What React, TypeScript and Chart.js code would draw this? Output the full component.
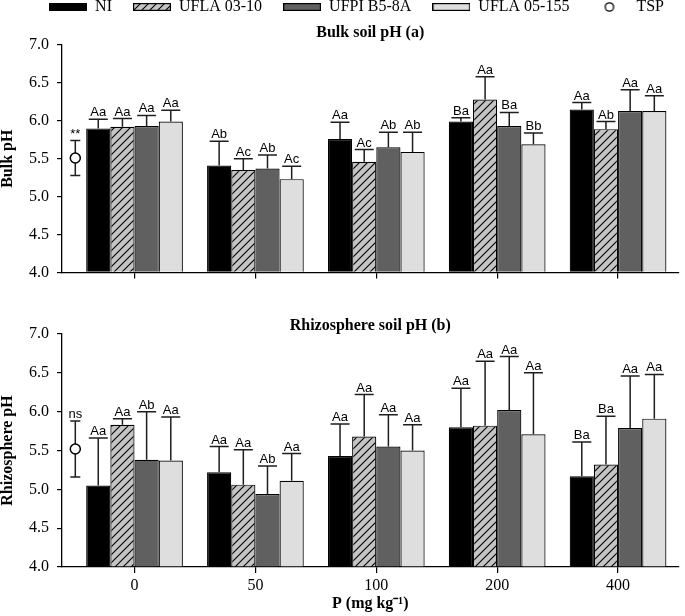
import React, { useEffect, useRef } from 'react';
import { Chart, registerables } from 'chart.js';

Chart.register(...registerables);

// ---------- data ----------
const doseLabels = ['0', '50', '100', '200', '400'];
const dosePositions = [0, 1, 2, 3, 4];
const seriesNames = ['NI', 'UFLA 03-10', 'UFPI B5-8A', 'UFLA 05-155'];
const tspName = 'TSP';
const tspPosition = -0.49;
const yMin = 4;
const yMax = 7;
const yStep = 0.5;

// Bulk soil pH (a)
const bulkNI = [5.90, 5.41, 5.76, 5.99, 6.15];
const bulkUFLA0310 = [5.92, 5.35, 5.46, 6.28, 5.89];
const bulkUFPI = [5.93, 5.37, 5.65, 5.93, 6.13];
const bulkUFLA05155 = [5.99, 5.23, 5.59, 5.69, 6.13];
const bulkNIErr = [0.12, 0.32, 0.22, 0.05, 0.09];
const bulkUFLA0310Err = [0.11, 0.15, 0.16, 0.30, 0.10];
const bulkUFPIErr = [0.14, 0.18, 0.20, 0.18, 0.28];
const bulkUFLA05155Err = [0.15, 0.17, 0.26, 0.15, 0.20];
const bulkNILetters = ['Aa', 'Ab', 'Aa', 'Ba', 'Aa'];
const bulkUFLA0310Letters = ['Aa', 'Ac', 'Ac', 'Aa', 'Ab'];
const bulkUFPILetters = ['Aa', 'Ab', 'Ab', 'Ba', 'Aa'];
const bulkUFLA05155Letters = ['Aa', 'Ac', 'Ab', 'Bb', 'Aa'];
const bulkTSP = 5.51;
const bulkTSPErr = 0.23;
const bulkTSPMark = '**';

// Rhizosphere soil pH (b)
const rhizoNI = [5.05, 5.22, 5.43, 5.80, 5.17];
const rhizoUFLA0310 = [5.83, 5.06, 5.68, 5.82, 5.32];
const rhizoUFPI = [5.38, 4.94, 5.55, 6.02, 5.79];
const rhizoUFLA05155 = [5.37, 5.11, 5.50, 5.71, 5.91];
const rhizoNIErr = [0.61, 0.33, 0.41, 0.50, 0.44];
const rhizoUFLA0310Err = [0.08, 0.45, 0.54, 0.83, 0.62];
const rhizoUFPIErr = [0.62, 0.36, 0.41, 0.69, 0.67];
const rhizoUFLA05155Err = [0.56, 0.35, 0.33, 0.79, 0.57];
const rhizoNILetters = ['Aa', 'Aa', 'Aa', 'Aa', 'Ba'];
const rhizoUFLA0310Letters = ['Aa', 'Aa', 'Aa', 'Aa', 'Ba'];
const rhizoUFPILetters = ['Ab', 'Ab', 'Aa', 'Aa', 'Aa'];
const rhizoUFLA05155Letters = ['Aa', 'Aa', 'Aa', 'Aa', 'Aa'];
const rhizoTSP = 5.52;
const rhizoTSPErr = 0.36;
const rhizoTSPMark = 'ns';

// ---------- styling ----------
const SERIF = "'Liberation Serif', 'Times New Roman', serif";
const SANS = "'Liberation Sans', Arial, sans-serif";

function makeHatch(): CanvasPattern | string {
  const c = document.createElement('canvas');
  c.width = 8;
  c.height = 8;
  const g = c.getContext('2d');
  if (!g) return '#c4c4c4';
  g.fillStyle = '#c4c4c4';
  g.fillRect(0, 0, 8, 8);
  g.strokeStyle = '#000';
  g.lineWidth = 1.1;
  g.beginPath();
  g.moveTo(0, 8); g.lineTo(8, 0);
  g.moveTo(-4, 4); g.lineTo(4, -4);
  g.moveTo(4, 12); g.lineTo(12, 4);
  g.stroke();
  const p = g.createPattern(c, 'repeat');
  return p || '#c4c4c4';
}

function makeBoxImg(fill: any): HTMLCanvasElement {
  const c = document.createElement('canvas');
  c.width = 38;
  c.height = 8;
  const g = c.getContext('2d')!;
  g.fillStyle = fill;
  g.fillRect(0, 0, 38, 8);
  g.strokeStyle = '#000';
  g.lineWidth = 1.2;
  g.strokeRect(0.6, 0.6, 36.8, 6.8);
  return c;
}

function makeCircleImg(): HTMLCanvasElement {
  const c = document.createElement('canvas');
  c.width = 12;
  c.height = 12;
  const g = c.getContext('2d')!;
  g.fillStyle = '#fff';
  g.strokeStyle = '#000';
  g.lineWidth = 1.3;
  g.beginPath();
  g.arc(6, 6, 4.2, 0, Math.PI * 2);
  g.fill();
  g.stroke();
  return c;
}

function drawErr(chart: any, ds: any, meta: any) {
  const ctx = chart.ctx;
  const yScale = chart.scales.y;
  const errs: number[] = ds.errors;
  const letters: string[] = ds.letters;
  const half = ds.capHalf;
  meta.data.forEach((el: any, i: number) => {
    const v = ds.data[i].y;
    const x = el.x;
    const yUp = yScale.getPixelForValue(v + errs[i]);
    const yDown = yScale.getPixelForValue(v - errs[i]);
    ctx.save();
    ctx.strokeStyle = '#1e1e1e';
    ctx.lineWidth = 1.5;
    ctx.beginPath();
    if (ds.twoSided) {
      ctx.moveTo(x, yDown); ctx.lineTo(x, yUp);
      ctx.moveTo(x - half, yDown); ctx.lineTo(x + half, yDown);
    } else {
      ctx.moveTo(x, el.y); ctx.lineTo(x, yUp);
    }
    ctx.moveTo(x - half, yUp); ctx.lineTo(x + half, yUp);
    ctx.stroke();
    ctx.fillStyle = '#000';
    ctx.font = `13px ${SANS}`;
    ctx.textAlign = 'center';
    ctx.textBaseline = 'alphabetic';
    ctx.fillText(letters[i], x, yUp - 3);
    ctx.restore();
  });
}

const errorBarPlugin = {
  id: 'errorBars',
  beforeDatasetDraw(chart: any, args: any) {
    const ds = chart.data.datasets[args.index];
    if (ds.errors && ds.twoSided) drawErr(chart, ds, args.meta);
  },
  afterDatasetDraw(chart: any, args: any) {
    const ds = chart.data.datasets[args.index];
    if (ds.errors && !ds.twoSided) drawErr(chart, ds, args.meta);
  },
};

function buildConfig(p: {
  values: number[][];
  errors: number[][];
  letters: string[][];
  tsp: number;
  tspErr: number;
  tspMark: string;
  colors: any[];
  legendImgs: HTMLCanvasElement[] | null;
  title: string;
  titlePad: { top: number; bottom: number };
  yTitle: string;
  showXLabels: boolean;
  xHeight: number;
}): any {
  const datasets: any[] = p.values.map((vals, s) => ({
    type: 'bar',
    label: seriesNames[s],
    data: dosePositions.map((x, i) => ({ x, y: vals[i] })),
    backgroundColor: p.colors[s],
    borderColor: '#000',
    borderWidth: 1.2,
    base: yMin,
    categoryPercentage: 0.8,
    barPercentage: 1.0,
    errors: p.errors[s],
    letters: p.letters[s],
    capHalf: 9.5,
  }));
  datasets.push({
    type: 'scatter',
    label: tspName,
    data: [{ x: tspPosition, y: p.tsp }],
    pointRadius: 5,
    pointBackgroundColor: '#fff',
    pointBorderColor: '#000',
    pointBorderWidth: 1.5,
    errors: [p.tspErr],
    letters: [p.tspMark],
    twoSided: true,
    capHalf: 5,
  });

  const legendNames = [...seriesNames, tspName];

  return {
    type: 'bar',
    data: { datasets },
    plugins: [errorBarPlugin],
    options: {
      responsive: false,
      animation: false,
      devicePixelRatio: 1,
      events: [],
      layout: { padding: 0 },
      plugins: {
        tooltip: { enabled: false },
        legend: p.legendImgs
          ? {
              display: true,
              position: 'top',
              align: 'end',
              fullSize: true,
              weight: 3000,
              labels: {
                usePointStyle: true,
                pointStyleWidth: 38,
                boxHeight: 8,
                padding: 21,
                color: '#000',
                font: { family: SERIF, size: 16 },
                generateLabels: () =>
                  legendNames.map((t, i) => ({
                    text: t,
                    pointStyle: p.legendImgs![i],
                    fillStyle: 'rgba(0,0,0,0)',
                    strokeStyle: 'rgba(0,0,0,0)',
                    lineWidth: 0,
                    hidden: false,
                    datasetIndex: i,
                    fontColor: '#000',
                  })),
              },
            }
          : { display: false },
        title: {
          display: true,
          text: p.title,
          color: '#000',
          fullSize: false,
          weight: 2000,
          font: { family: SERIF, size: 16, weight: 'bold', lineHeight: 1 },
          padding: p.titlePad,
        },
      },
      scales: {
        x: {
          type: 'linear',
          min: tspPosition - 0.11,
          max: 4.5,
          offset: false,
          afterBuildTicks: (s: any) => {
            s.ticks = dosePositions.map((v) => ({ value: v }));
          },
          afterFit: (s: any) => {
            s.height = p.xHeight;
          },
          grid: {
            display: true,
            offset: false,
            drawOnChartArea: false,
            drawTicks: true,
            tickLength: 6,
            color: '#000',
            lineWidth: 1.2,
          },
          border: { display: true, color: '#000', width: 1.3 },
          ticks: {
            display: p.showXLabels,
            autoSkip: false,
            maxRotation: 0,
            padding: 3,
            color: '#000',
            font: { family: SERIF, size: 16 },
            callback: (_v: any, i: number) => doseLabels[i],
          },
          title: {
            display: p.showXLabels,
            text: 'P (mg kg\u207B\u00B9)',
            color: '#000',
            font: { family: SERIF, size: 16, weight: 'bold', lineHeight: 1.2 },
            padding: { top: 0, bottom: 3 },
          },
        },
        y: {
          min: yMin,
          max: yMax,
          afterFit: (s: any) => {
            s.width = 62;
          },
          ticks: {
            stepSize: yStep,
            color: '#000',
            padding: 8,
            font: { family: SERIF, size: 16 },
            callback: (v: any) => Number(v).toFixed(1),
          },
          grid: {
            display: true,
            drawOnChartArea: false,
            drawTicks: true,
            tickLength: 5,
            color: '#000',
            lineWidth: 1.2,
          },
          border: { display: true, color: '#000', width: 1.3 },
          title: {
            display: true,
            text: p.yTitle,
            color: '#000',
            font: { family: SERIF, size: 16, weight: 'bold', lineHeight: 1 },
            padding: 0,
          },
        },
      },
    },
  };
}

export default function App() {
  const topRef = useRef<HTMLCanvasElement>(null);
  const botRef = useRef<HTMLCanvasElement>(null);

  useEffect(() => {
    if (!topRef.current || !botRef.current) return;
    const hatch = makeHatch();
    const colors = ['#000000', hatch, '#606060', '#dedede'];
    const legendImgs = [...colors.map((c) => makeBoxImg(c)), makeCircleImg()];

    const top = new Chart(
      topRef.current,
      buildConfig({
        values: [bulkNI, bulkUFLA0310, bulkUFPI, bulkUFLA05155],
        errors: [bulkNIErr, bulkUFLA0310Err, bulkUFPIErr, bulkUFLA05155Err],
        letters: [bulkNILetters, bulkUFLA0310Letters, bulkUFPILetters, bulkUFLA05155Letters],
        tsp: bulkTSP,
        tspErr: bulkTSPErr,
        tspMark: bulkTSPMark,
        colors,
        legendImgs,
        title: 'Bulk soil pH (a)',
        titlePad: { top: 0, bottom: 4 },
        yTitle: 'Bulk pH',
        showXLabels: false,
        xHeight: 13,
      })
    );
    const bot = new Chart(
      botRef.current,
      buildConfig({
        values: [rhizoNI, rhizoUFLA0310, rhizoUFPI, rhizoUFLA05155],
        errors: [rhizoNIErr, rhizoUFLA0310Err, rhizoUFPIErr, rhizoUFLA05155Err],
        letters: [rhizoNILetters, rhizoUFLA0310Letters, rhizoUFPILetters, rhizoUFLA05155Letters],
        tsp: rhizoTSP,
        tspErr: rhizoTSPErr,
        tspMark: rhizoTSPMark,
        colors,
        legendImgs: null,
        title: 'Rhizosphere soil pH (b)',
        titlePad: { top: 28, bottom: 0 },
        yTitle: 'Rhizosphere pH',
        showXLabels: true,
        xHeight: 49,
      })
    );
    return () => {
      top.destroy();
      bot.destroy();
    };
  }, []);

  return (
    <div
      style={{
        position: 'absolute',
        left: 0,
        top: 0,
        width: 685,
        height: 616,
        overflow: 'hidden',
        background: '#fff',
      }}
    >
      <canvas
        ref={topRef}
        width={685}
        height={312}
        style={{ position: 'absolute', left: 0, top: -22, width: 685, height: 312 }}
      />
      <canvas
        ref={botRef}
        width={685}
        height={326}
        style={{ position: 'absolute', left: 0, top: 290, width: 685, height: 326 }}
      />
    </div>
  );
}
